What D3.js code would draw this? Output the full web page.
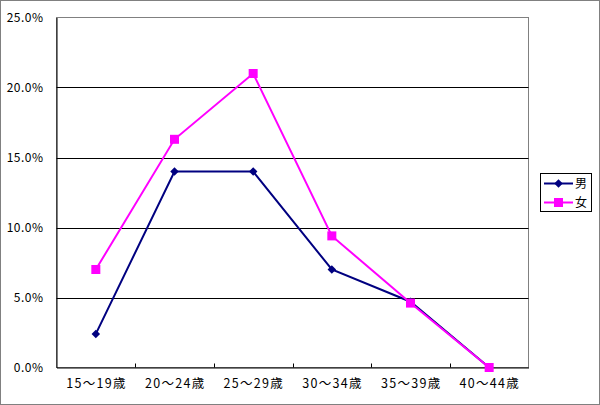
<!DOCTYPE html>
<html><head><meta charset="utf-8">
<script src="https://cdn.jsdelivr.net/npm/d3@7"></script>
<style>body{margin:0;background:#fff}svg{display:block}</style>
</head><body>
<svg id="c" width="600" height="405"></svg>
<script>
const categories = ["15～19歳","20～24歳","25～29歳","30～34歳","35～39歳","40～44歳"];
const male = [2.4, 14.0, 14.0, 7.0, 4.7, 0.0];
const female = [7.0, 16.3, 21.0, 9.4, 4.6, 0.0];
const seriesNames = ["男","女"];
const yTicks = [0, 5, 10, 15, 20, 25];

const svg = d3.select("#c");
const font = "'MS PGothic','Noto Sans CJK JP','Liberation Sans',sans-serif";
const L = 56.5, R = 528.5, T = 17.5, B = 367.5;

svg.append("rect").attr("x",0.5).attr("y",0.5).attr("width",599).attr("height",404)
  .attr("fill","#fff").attr("stroke","#808080").attr("stroke-width",1);

const x = d3.scaleBand().domain(categories).range([L, R]);
const y = d3.scaleLinear().domain([0, 25]).range([B, T]);

// plot area border (gray)
svg.append("rect").attr("x",L).attr("y",T).attr("width",R-L).attr("height",B-T)
  .attr("fill","#fff").attr("stroke","#808080");

// gridlines
svg.append("g").selectAll("line").data(yTicks.filter(d=>d>0 && d<25)).join("line")
  .attr("x1",L).attr("x2",R).attr("y1",d=>Math.round(y(d))+0.5).attr("y2",d=>Math.round(y(d))+0.5)
  .attr("stroke","#000").attr("stroke-width",1);

// y axis
const yAxis = d3.axisLeft(y).tickValues(yTicks).tickFormat(d=>d.toFixed(1)+"%").tickSize(0).tickPadding(13);
const gy = svg.append("g").attr("transform",`translate(${L},0)`).call(yAxis);
gy.select(".domain").attr("stroke","#000");
gy.selectAll("text").attr("font-family",font).attr("font-size",12).attr("fill","#000")
  .attr("letter-spacing","0.5px");

// x axis
const xAxis = d3.axisBottom(x).tickSize(0).tickPadding(12);
const gx = svg.append("g").attr("transform",`translate(0,${B})`).call(xAxis);
gx.select(".domain").attr("stroke","#000");
gx.selectAll("text").attr("font-family",font).attr("font-size",12.5).attr("fill","#000")
  .attr("letter-spacing","1.3px").attr("dx","0.7px");
// inward ticks at band boundaries
const bounds = categories.slice(1).map(c=>x(c));
svg.append("g").selectAll("line").data(bounds).join("line")
  .attr("x1",d=>Math.round(d)+0.5).attr("x2",d=>Math.round(d)+0.5).attr("y1",B).attr("y2",B-4)
  .attr("stroke","#000");

const cx = c => x(c) + x.bandwidth()/2;
const line = d3.line().x((d,i)=>cx(categories[i])).y(d=>y(d));

// male
svg.append("path").datum(male).attr("d",line).attr("fill","none").attr("stroke","#000080").attr("stroke-width",2);
svg.append("g").selectAll("path").data(male).join("path")
  .attr("d",d3.symbol().type(d3.symbolSquare).size(36))
  .attr("transform",(d,i)=>`translate(${cx(categories[i])},${y(d)}) rotate(45)`)
  .attr("fill","#000080");

// female
svg.append("path").datum(female).attr("d",line).attr("fill","none").attr("stroke","#FF00FF").attr("stroke-width",2);
svg.append("g").selectAll("rect").data(female).join("rect")
  .attr("x",(d,i)=>cx(categories[i])-4.5).attr("y",d=>y(d)-4.5).attr("width",9).attr("height",9)
  .attr("fill","#FF00FF");

// legend
const lg = svg.append("g");
lg.append("rect").attr("x",540.5).attr("y",173.5).attr("width",51).attr("height",38)
  .attr("fill","#fff").attr("stroke","#000");
const legY = [183.5, 202.5];
const colors = ["#000080","#FF00FF"];
seriesNames.forEach((n,i)=>{
  lg.append("line").attr("x1",544).attr("x2",573).attr("y1",legY[i]).attr("y2",legY[i])
    .attr("stroke",colors[i]).attr("stroke-width",2);
  if(i===0){
    lg.append("path").attr("d",d3.symbol().type(d3.symbolSquare).size(36))
      .attr("transform",`translate(558.5,${legY[i]}) rotate(45)`).attr("fill",colors[i]);
  } else {
    lg.append("rect").attr("x",554).attr("y",legY[i]-4.5).attr("width",9).attr("height",9).attr("fill",colors[i]);
  }
  lg.append("text").attr("x",575).attr("y",legY[i]).attr("dy","0.35em")
    .attr("font-family",font).attr("font-size",12).text(n);
});
</script>
</body></html>
